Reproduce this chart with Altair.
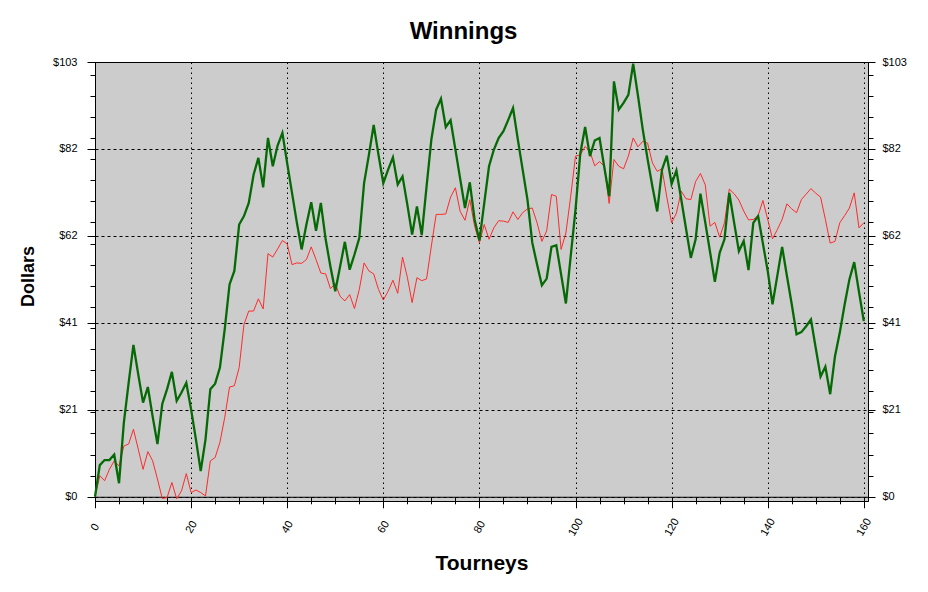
import altair as alt
import pandas as pd

tourneys = list(range(161))

green = [0, 7.5, 8.7, 8.7, 10, 3.2, 17.5, 27, 36, 29,
         22.3, 26, 19, 12.5, 22, 25.5, 29.6, 22.7, 24.7, 27,
         20.7, 13.6, 6.1, 13.6, 25.5, 26.8, 30.6, 39.7, 50.3, 53.5,
         64.5, 66.5, 69.6, 76.3, 80.3, 73.3, 85, 78.3, 83.2, 86.2,
         79, 72, 65, 58.6, 64.5, 69.8, 63, 69.6, 61, 54.5,
         48.7, 54.5, 60.4, 53.8, 57.4, 61.3, 74.3, 81, 88.1, 81,
         74.3, 77.5, 80.4, 74, 75.9, 69.2, 62.1, 68.8, 62, 73.5,
         84.6, 91.7, 94.3, 87.6, 89.2, 82.3, 75.3, 68.4, 74.5, 65.7,
         60.7, 69.5, 78.3, 82.2, 85, 86.6, 89.3, 92.1, 84.6, 77.5,
         70.4, 60.2, 55, 50.1, 51.7, 59.2, 59.6, 52.7, 45.8, 57,
         68, 81.4, 87.6, 80.7, 84.4, 85, 78, 71.2, 98.4, 91.7,
         93.3, 95.2, 102.6, 95, 87, 80, 73.5, 67.6, 77.5, 80.8,
         74.1, 77.3, 70.5, 63.5, 56.6, 61, 71.8, 65, 58, 50.9,
         57.8, 61, 72, 65, 58.2, 60.6, 53.7, 64.9, 66.5, 60,
         53.5, 45.6, 52.4, 59.2, 52.3, 45.6, 38.5, 39, 40.4, 42,
         35.2, 28.5, 30.8, 24.3, 33.3, 38.9, 45.5, 51.5, 55.6, 48.5,
         41.6]

red = [0, 5, 3.8, 6.5, 8.5, 7.3, 12, 12.5, 16, 11.3,
       6.5, 10.7, 8.5, 4.2, -0.4, -0.2, 3.4, -0.5, 1.4, 5.5,
       1, 1.6, 1, 0.2, 8.5, 9.3, 12.9, 18.8, 26, 26.3,
       30.6, 40.8, 44, 44, 46.9, 44.5, 57.6, 56.8, 58.7, 60.7,
       59.9, 55, 55.4, 55.3, 56.2, 59.2, 56.2, 53, 52.8, 49.3,
       50.5, 47.5, 46.4, 47.9, 44.6, 49.1, 55.4, 53.5, 52.8, 49.1,
       46.6, 48.7, 51.3, 48.2, 56.8, 52, 46, 51.9, 51.2, 51.6,
       59.4, 66.9, 66.9, 67, 71, 73.2, 67.6, 65.5, 70.4, 64.1,
       60.2, 64.5, 61, 63.7, 65.4, 65.3, 65, 67.5, 65.7, 67.3,
       68.2, 68.4, 64.9, 60.5, 63, 71.6, 71.2, 58.6, 62.5, 71.2,
       80.7, 81, 83, 81.8, 78.4, 79.4, 78.3, 69.5, 79.9, 78.3,
       77.7, 80.7, 85, 82.9, 84.2, 83.8, 79.1, 77.1, 77.7, 71,
       64.9, 67.2, 72.4, 70.6, 70.4, 74.7, 76.6, 73.9, 64.1, 65,
       61.5, 64.9, 72.9, 71.8, 70.3, 67.7, 65.6, 65.7, 66.6, 70.2,
       65.7, 61.1, 63.3, 65.7, 69.4, 68.2, 67.3, 70.4, 71.7, 73,
       71.9, 71, 65.7, 60.1, 60.5, 64.9, 66.6, 68.4, 72, 63.7,
       64.9]

major_y = [0, 20.6, 41.2, 61.8, 82.4, 103]
minor_y = list(range(0, 101, 5))
y_ticks = sorted(set(major_y + minor_y))
x_ticks = list(range(0, 161, 5))

df = pd.DataFrame({"t": tourneys, "green": green, "red": red})

W, H = 773, 439
YMIN, YMAX = -1.0, 103.0
XMAX = 160.87
FONT = "Liberation Sans, Arial, sans-serif"

y_major_test = "abs(datum.value/20.6 - round(datum.value/20.6)) < 0.01"
x_major_test = "datum.value % 20 == 0"
y_label = "(" + y_major_test + ") ? '$' + format(round(datum.value), 'd') : ''"
x_label = "(" + x_major_test + ") ? format(datum.value, 'd') : ''"

x_offset = -H * (0 - YMIN) / (YMAX - YMIN)

x_axis = alt.Axis(
    values=x_ticks, labelExpr=x_label, labelAngle=300, labelAlign="center",
    labelBaseline="middle", labelPadding=19, labelFlush=False, labelOverlap=False,
    labelFont=FONT, labelFontSize=11, labelColor="black",
    tickSize={"condition": {"test": x_major_test, "value": 11}, "value": 7},
    tickColor="black", domainColor="black", offset=x_offset,
    grid=True, gridColor="black", gridDash=[1.5, 3.5],
    gridOpacity={"condition": {"test": x_major_test, "value": 1}, "value": 0},
    title="Tourneys", titleFont=FONT, titleFontSize=21, titleFontWeight="bold",
    titleColor="black", titleX=W / 2, titleY=73, titleBaseline="alphabetic",
    titleAlign="center",
)

x_enc = alt.X("t:Q", scale=alt.Scale(domain=[0, XMAX], nice=False, zero=False), axis=x_axis)
y_scale = alt.Scale(domain=[YMIN, YMAX], nice=False, zero=False)

left_axis = alt.Axis(
    values=y_ticks, labelExpr=y_label, labelPadding=10, labelFlush=False,
    labelOverlap=False, labelFont=FONT, labelFontSize=11, labelColor="black",
    tickSize={"condition": {"test": y_major_test, "value": 8}, "value": 5},
    tickColor="black", domainColor="black",
    grid=True, gridColor="black", gridDash=[3, 3],
    gridOpacity={"condition": {"test": y_major_test, "value": 1}, "value": 0},
    title="Dollars", titleFont=FONT, titleFontSize=18, titleFontWeight="bold",
    titleColor="black", titleAngle=270, titleX=-62, titleY=214,
    titleBaseline="alphabetic", titleAlign="center", orient="left",
)

right_axis = alt.Axis(
    values=y_ticks, labelExpr=y_label, labelPadding=7, labelFlush=False,
    labelOverlap=False, labelFont=FONT, labelFontSize=11, labelColor="black",
    tickSize={"condition": {"test": y_major_test, "value": 7}, "value": 5},
    tickColor="black", domainColor="black", grid=False, title=None, orient="right",
)

red_line = alt.Chart(df).mark_line(color="#ff2a2a", strokeWidth=1).encode(
    x=x_enc,
    y=alt.Y("red:Q", scale=y_scale, axis=right_axis),
)

green_line = alt.Chart(df).mark_line(color="#056a05", strokeWidth=2.3).encode(
    x=x_enc,
    y=alt.Y("green:Q", scale=y_scale, axis=left_axis),
)

chart = alt.layer(red_line, green_line).resolve_axis(y="independent").properties(
    width=W, height=H,
    title=alt.Title("Winnings", font=FONT, fontSize=24, fontWeight="bold",
                    color="black", anchor="middle", frame="group", dx=-18,
                    offset=12),
    autosize=alt.AutoSizeParams(type="none"),
    padding={"left": 87, "top": 54, "right": 52, "bottom": 83},
).configure(background="white").configure_view(fill="#cccccc", stroke="black", strokeWidth=1)

chart.save("out.html", embed_options={"renderer": "svg", "actions": False})
